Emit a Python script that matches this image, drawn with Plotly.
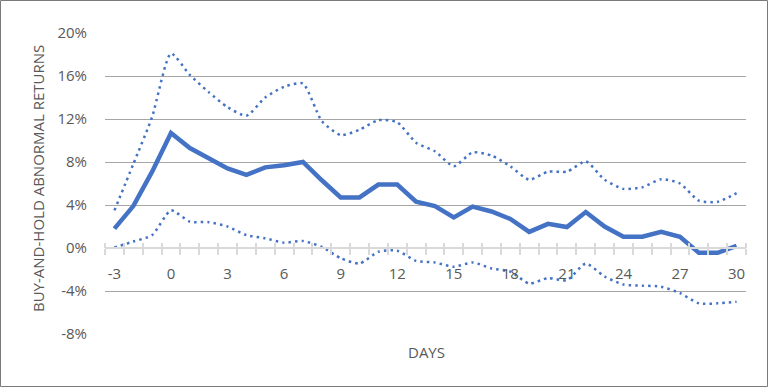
import plotly.graph_objects as go

days = list(range(-3, 31))
mean_bhar = [1.8, 3.9, 7.1, 10.7, 9.3, 8.3, 7.4, 6.8, 7.5, 7.7, 8.0,
             6.3, 4.7, 4.7, 5.9, 5.9, 4.3, 3.9, 2.85, 3.85, 3.4, 2.7,
             1.5, 2.25, 1.95, 3.35, 2.0, 1.05, 1.05, 1.5, 1.05, -0.45, -0.45, 0.2]
upper_ci = [3.5, 7.8, 12.2, 18.1, 16.1, 14.5, 13.1, 12.3, 14.0, 15.0, 15.3,
            11.8, 10.5, 11.0, 11.9, 11.7, 9.8, 9.0, 7.6, 8.9, 8.6, 7.6,
            6.35, 7.1, 7.1, 8.05, 6.35, 5.5, 5.65, 6.4, 6.0, 4.4, 4.3, 5.1]
lower_ci = [0.05, 0.6, 1.2, 3.5, 2.45, 2.4, 2.0, 1.2, 0.9, 0.5, 0.65,
            0.1, -0.95, -1.45, -0.35, -0.25, -1.2, -1.35, -1.75, -1.35, -1.9, -2.2,
            -3.3, -2.8, -3.0, -1.45, -2.65, -3.4, -3.5, -3.6, -4.2, -5.15, -5.15, -5.0]
x_ticks = list(range(-3, 31, 3))
y_ticks = [-8, -4, 0, 4, 8, 12, 16, 20]
y_ticklabels = [f"{v}%" for v in y_ticks]
boundaries = [d - 0.5 for d in days] + [days[-1] + 0.5]

BLUE = "#4472C4"
TXT = "#595959"
FONT = "Open Sans"

L, R, T, B = 105, 22, 33, 53
W, H = 768, 387
PW, PH = W - L - R, H - T - B
ymin, ymax = -8, 20
zero_pos = (0 - ymin) / (ymax - ymin)

fig = go.Figure()
for ci in (upper_ci, lower_ci):
    fig.add_trace(go.Scatter(x=days, y=ci, mode="lines",
                             line=dict(color=BLUE, width=2.5, dash="2.5px,4px", shape="spline", smoothing=0.6),
                             hoverinfo="skip", showlegend=False))
fig.add_trace(go.Scatter(x=days, y=mean_bhar, mode="lines",
                         line=dict(color=BLUE, width=4.5),
                         showlegend=False))
# helper trace so overlay axis renders (tick marks above the axis line)
fig.add_trace(go.Scatter(x=[days[0]], y=[mean_bhar[0]], xaxis="x2", mode="markers",
                         marker=dict(opacity=0), hoverinfo="skip", showlegend=False))

fig.update_layout(
    width=W, height=H,
    margin=dict(l=L, r=R, t=T, b=B),
    paper_bgcolor="white", plot_bgcolor="white",
    font=dict(family=FONT, size=14, color=TXT),
    xaxis=dict(range=[days[0] - 0.5, days[-1] + 0.5], anchor="free", position=zero_pos,
               tickmode="array", tickvals=x_ticks, ticktext=[str(v) for v in x_ticks],
               ticks="", showgrid=False, zeroline=False,
               showline=True, linecolor="#d9d9d9", linewidth=1.5,
               ticklabelstandoff=12,
               minor=dict(tickmode="array", tickvals=boundaries, ticks="outside",
                          ticklen=6, tickwidth=1.5, tickcolor="#d9d9d9", showgrid=False),
               tickfont=dict(size=15, color=TXT)),
    xaxis2=dict(overlaying="x", matches="x", anchor="free", position=zero_pos,
                showticklabels=False, showgrid=False, zeroline=False, showline=False,
                ticks="",
                minor=dict(tickmode="array", tickvals=boundaries, ticks="inside",
                           ticklen=5, tickwidth=1.5, tickcolor="#d9d9d9", showgrid=False)),
    yaxis=dict(range=[ymin, ymax], tickmode="array", tickvals=y_ticks, ticktext=y_ticklabels,
               showgrid=True, gridcolor="#a6a6a6", gridwidth=1.2, zeroline=False,
               ticks="", ticklabelstandoff=17, showline=False,
               tickfont=dict(size=15, color=TXT)),
    annotations=[
        dict(text="BUY-AND-HOLD ABNORMAL RETURNS", xref="paper", yref="paper",
             x=(38 - L) / PW, y=(T + PH - 179) / PH, textangle=-90, showarrow=False,
             xanchor="center", yanchor="middle", font=dict(size=15, color=TXT)),
        dict(text="DAYS", xref="paper", yref="paper",
             x=(427 - L) / PW, y=(T + PH - 352) / PH, showarrow=False,
             xanchor="center", yanchor="middle", font=dict(size=15, color=TXT)),
    ],
    shapes=[dict(type="rect", xref="paper", yref="paper",
                 x0=(0.5 - L) / PW, x1=(W - 0.5 - L) / PW,
                 y0=(T + PH - (H - 0.5)) / PH, y1=(T + PH - 0.5) / PH,
                 line=dict(color="#7a7a7a", width=1), layer="below")],
)

fig.write_html("out.html", config={"displayModeBar": False},
               post_script="document.body.style.margin='0px';document.body.style.overflow='hidden';")
